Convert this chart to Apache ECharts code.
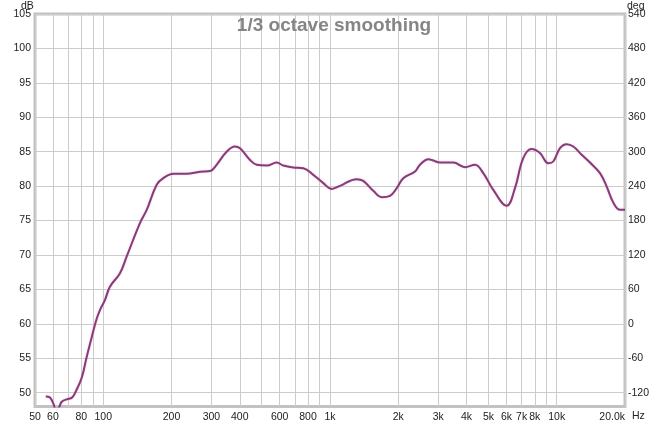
<!DOCTYPE html>
<html>
<head>
<meta charset="utf-8">
<script src="https://cdn.jsdelivr.net/npm/echarts@6/dist/echarts.min.js"></script>
<style>
html,body{margin:0;padding:0;background:#fff;}
#chart{width:668px;height:425px;}
</style>
</head>
<body>
<div id="chart"></div>
<script>
// Frequency (Hz) and level (dB)
const freq = [55.8, 58.2, 60.2, 62, 64, 65.6, 69, 72.9, 76.2, 80.4, 84.5, 89, 93.4, 97, 101.8, 107, 118.5, 126.9, 145, 155.5, 172, 184, 203.7, 233, 267, 296, 316, 350, 381, 401, 444, 475, 526, 582, 622, 689, 763, 844, 934, 1017, 1107, 1311, 1402, 1552, 1690, 1839, 1969, 2105, 2371, 2494, 2714, 2854, 3055, 3497, 3938, 4360, 4742, 5250, 6015, 6544, 7118, 7750, 8434, 9176, 9653, 10335, 11062, 11830, 12882, 14013, 15513, 16606, 17755, 19011, 20000];
const spl = [49.45, 49.3, 48.46, 47.4, 47.97, 48.7, 49.04, 49.3, 50.4, 52.2, 55.2, 58.1, 60.67, 62.1, 63.5, 65.4, 67.35, 69.8, 74.6, 76.55, 80.2, 81.16, 81.8, 81.8, 82.1, 82.2, 83.1, 85.0, 85.76, 85.5, 83.8, 83.1, 82.99, 83.43, 82.99, 82.7, 82.6, 81.64, 80.44, 79.6, 80.04, 81.02, 80.77, 79.32, 78.4, 78.59, 79.71, 81.16, 82.12, 83.1, 83.92, 83.72, 83.43, 83.43, 82.76, 83.1, 81.89, 79.46, 77.14, 79.71, 84.07, 85.38, 84.8, 83.34, 83.58, 85.52, 86.1, 85.76, 84.55, 83.43, 81.89, 79.94, 77.62, 76.56, 76.56];

// Axis ticks / labels
const xLabelValues = [50, 60, 80, 100, 200, 300, 400, 600, 800, 1000, 2000, 3000, 4000, 5000, 6000, 7000, 8000, 10000, 20000];
const xGridValues = [50, 60, 70, 80, 90, 100, 200, 300, 400, 500, 600, 700, 800, 900, 1000, 2000, 3000, 4000, 5000, 6000, 7000, 8000, 9000, 10000, 20000];
const dbTicks = [50, 55, 60, 65, 70, 75, 80, 85, 90, 95, 100, 105];
const degTicks = [-120, -60, 0, 60, 120, 180, 240, 300, 360, 420, 480, 540];
const titleText = '1/3 octave smoothing';

const labelFont = {fontFamily: 'Liberation Sans, Arial, sans-serif', fontSize: 10.5, color: '#222'};

const chart = echarts.init(document.getElementById('chart'), null, {renderer: 'canvas'});
chart.setOption({
  animation: false,
  backgroundColor: '#ffffff',
  title: {
    text: titleText,
    left: 'center',
    top: 11,
    textStyle: {fontFamily: 'Liberation Sans, Arial, sans-serif', fontSize: 19, fontWeight: 'bold', color: '#858585'}
  },
  grid: {
    left: 35, right: 43, top: 14, bottom: 18.5,
    show: true, borderColor: '#c2c2c2', borderWidth: 3, backgroundColor: 'transparent'
  },
  xAxis: {
    type: 'log', logBase: 10, min: 50, max: 20000,
    axisLine: {show: false},
    axisTick: {show: false, customValues: xGridValues},
    splitLine: {show: true, lineStyle: {color: '#cccccc', width: 1}},
    axisLabel: Object.assign({
      customValues: xLabelValues,
      margin: 5,
      alignMaxLabel: 'right',
      formatter: function (v) {
        if (v >= 20000) return (v / 1000).toFixed(1) + 'k';
        if (v >= 1000) return (v / 1000) + 'k';
        return String(v);
      }
    }, labelFont)
  },
  yAxis: [{
    type: 'value', min: 48, max: 105, position: 'left',
    axisLine: {show: false},
    axisTick: {show: false, customValues: dbTicks},
    splitLine: {show: true, lineStyle: {color: '#cccccc', width: 1}},
    axisLabel: Object.assign({customValues: dbTicks, margin: 4}, labelFont)
  }, {
    type: 'value', min: -144, max: 540, position: 'right',
    axisLine: {show: false},
    axisTick: {show: false, customValues: degTicks},
    splitLine: {show: false},
    axisLabel: Object.assign({customValues: degTicks, margin: 3}, labelFont)
  }],
  graphic: [
    {type: 'text', left: 21, top: 1, style: {text: 'dB', font: '10.5px Liberation Sans, Arial, sans-serif', fill: '#222'}},
    {type: 'text', left: 627, top: 1, style: {text: 'deg', font: '10.5px Liberation Sans, Arial, sans-serif', fill: '#222'}},
    {type: 'text', left: 632, top: 411, style: {text: 'Hz', font: '10.5px Liberation Sans, Arial, sans-serif', fill: '#222'}}
  ],
  series: [{
    type: 'line',
    xAxisIndex: 0, yAxisIndex: 0,
    data: freq.map((f, i) => [f, spl[i]]),
    showSymbol: false,
    smooth: 0.4,
    clip: true,
    lineStyle: {color: '#853c77', width: 2, shadowColor: 'rgba(235,150,215,0.55)', shadowBlur: 2}
  }]
});
</script>
</body>
</html>
